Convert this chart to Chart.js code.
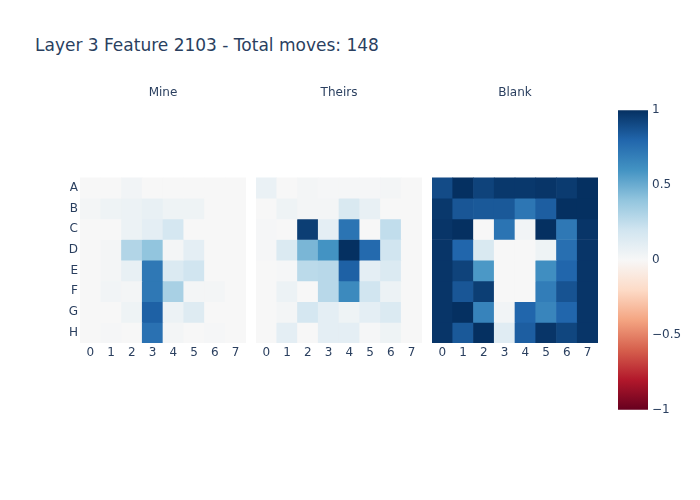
<!DOCTYPE html>
<html>
<head>
<meta charset="utf-8">
<script src="https://cdn.jsdelivr.net/npm/chart.js@4.4.1/dist/chart.umd.min.js"></script>
<style>
  html, body { margin: 0; padding: 0; background: #fff; width: 700px; height: 500px; overflow: hidden; }
  .box { position: absolute; }
  #title { position: absolute; left: 35px; top: 35px; font-family: "DejaVu Sans", sans-serif; font-size: 17px; line-height: 20px; color: #2a3f5f; white-space: nowrap; }
</style>
</head>
<body>
<div id="title">Layer 3 Feature 2103 - Total moves: 148</div>
<div class="box" style="left:40px;top:78px;width:206px;height:295px"><canvas id="c0"></canvas></div>
<div class="box" style="left:256px;top:78px;width:166px;height:295px"><canvas id="c1"></canvas></div>
<div class="box" style="left:432px;top:78px;width:166px;height:295px"><canvas id="c2"></canvas></div>
<div class="box" style="left:618px;top:99px;width:82px;height:322px"><canvas id="cb"></canvas></div>
<script>
const rowLabels = ['A','B','C','D','E','F','G','H'];
const colLabels = ['0','1','2','3','4','5','6','7'];
const panelTitles = ['Mine','Theirs','Blank'];

const mine = [
  [0.00,0.00,0.03,0.00,0.00,0.00,0.00,0.00],
  [0.02,0.05,0.06,0.08,0.05,0.05,0.00,0.00],
  [0.00,0.00,0.06,0.10,0.18,0.00,0.00,0.00],
  [0.00,0.02,0.30,0.40,0.02,0.10,0.00,0.00],
  [0.00,0.02,0.08,0.72,0.15,0.20,0.00,0.00],
  [0.00,0.03,0.02,0.72,0.33,0.02,0.02,0.00],
  [0.00,0.00,0.05,0.82,0.06,0.13,0.00,0.00],
  [0.00,0.01,0.00,0.75,0.02,0.00,0.01,0.00]
];
const theirs = [
  [0.07,0.00,0.02,0.01,0.01,0.01,0.02,0.00],
  [0.00,0.05,0.02,0.02,0.16,0.08,0.00,0.00],
  [0.01,0.00,0.95,0.10,0.74,0.00,0.25,0.00],
  [0.01,0.15,0.46,0.60,1.00,0.78,0.20,0.00],
  [0.00,0.01,0.27,0.28,0.82,0.10,0.15,0.00],
  [0.00,0.06,0.00,0.28,0.64,0.20,0.06,0.00],
  [0.00,0.02,0.18,0.10,0.05,0.10,0.15,0.00],
  [0.00,0.10,0.00,0.10,0.10,0.01,0.05,0.00]
];
const blank = [
  [0.90,1.00,0.93,0.97,0.97,0.98,0.96,1.00],
  [0.97,0.86,0.85,0.85,0.73,0.83,1.00,1.00],
  [0.98,1.00,0.00,0.74,0.03,1.00,0.72,0.98],
  [0.98,0.80,0.16,0.00,0.00,0.05,0.76,0.98],
  [0.98,0.93,0.58,0.00,0.00,0.62,0.80,0.98],
  [0.98,0.86,0.95,0.00,0.00,0.70,0.87,0.98],
  [0.98,1.00,0.67,0.03,0.80,0.66,0.80,0.98],
  [0.98,0.85,1.00,0.12,0.83,0.98,0.92,0.98]
];
const colorbarTicks = [-1,-0.5,0,0.5,1];

const RdBu = [
  [103,0,31],[178,24,43],[214,96,77],[244,165,130],[253,219,199],
  [247,247,247],[209,229,240],[146,197,222],[67,147,195],[33,102,172],[5,48,97]
];
function colorFor(v) {
  const t = Math.max(0, Math.min(1, (v + 1) / 2)) * (RdBu.length - 1);
  const i = Math.min(Math.floor(t), RdBu.length - 2);
  const f = t - i;
  const a = RdBu[i], b = RdBu[i + 1];
  const c = a.map((x, k) => Math.round(x + (b[k] - x) * f));
  return 'rgb(' + c.join(',') + ')';
}

const FONT = '"DejaVu Sans", sans-serif';
const TXT = '#2a3f5f';

function makePanel(id, title, values, showY) {
  const datasets = rowLabels.map((r, ri) => ({
    label: r,
    data: colLabels.map(() => [ri, ri + 1]),
    backgroundColor: values[ri].map(colorFor),
    borderWidth: 0,
    barPercentage: 1.0,
    categoryPercentage: 1.0,
    grouped: false
  }));
  new Chart(document.getElementById(id), {
    type: 'bar',
    data: { labels: colLabels, datasets },
    options: {
      responsive: true,
      maintainAspectRatio: false,
      animation: false,
      events: [],
      layout: { padding: 0 },
      plugins: {
        legend: { display: false },
        tooltip: { enabled: false },
        title: {
          display: true, text: title, color: TXT, fullSize: false,
          font: { family: FONT, size: 12, weight: 'normal' },
          padding: { top: 8, bottom: 77 }
        }
      },
      scales: {
        x: {
          type: 'category',
          grid: { display: false, drawTicks: false },
          border: { display: false },
          ticks: { color: TXT, font: { family: FONT, size: 12 }, padding: 3 },
          afterFit: (s) => { s.height = 30; }
        },
        y: {
          type: 'linear', min: 0, max: 8, reverse: true,
          display: showY,
          grid: { display: false, drawTicks: false },
          border: { display: false },
          afterBuildTicks: (s) => { s.ticks = rowLabels.map((r, i) => ({ value: i + 0.5 })); },
          ticks: {
            color: TXT, font: { family: FONT, size: 12 }, padding: 2,
            callback: (v) => rowLabels[Math.floor(v)]
          },
          afterFit: (s) => { if (showY) s.width = 40; }
        }
      }
    }
  });
}

makePanel('c0', panelTitles[0], mine, true);
makePanel('c1', panelTitles[1], theirs, false);
makePanel('c2', panelTitles[2], blank, false);

new Chart(document.getElementById('cb'), {
  type: 'bar',
  data: {
    labels: [''],
    datasets: [{
      data: [[-1, 1]],
      borderWidth: 0,
      barPercentage: 1.0,
      categoryPercentage: 1.0,
      backgroundColor: (ctx) => {
        const ch = ctx.chart, a = ch.chartArea;
        if (!a) return 'rgba(0,0,0,0)';
        const g = ch.ctx.createLinearGradient(0, a.bottom, 0, a.top);
        RdBu.forEach((c, i) => g.addColorStop(i / (RdBu.length - 1), 'rgb(' + c.join(',') + ')'));
        return g;
      }
    }]
  },
  options: {
    responsive: true,
    maintainAspectRatio: false,
    animation: false,
    events: [],
    layout: { padding: { top: 10, bottom: 10, left: 0, right: 0 } },
    plugins: { legend: { display: false }, tooltip: { enabled: false } },
    scales: {
      x: { display: false },
      y: {
        position: 'right', min: -1, max: 1,
        grid: { display: false, drawTicks: false },
        border: { display: false },
        afterBuildTicks: (s) => { s.ticks = colorbarTicks.map(v => ({ value: v })); },
        ticks: {
          color: TXT, font: { family: FONT, size: 12 }, padding: 4,
          callback: (v) => (v < 0 ? '\u2212' + Math.abs(v) : String(v))
        },
        afterFit: (s) => { s.width = 52; }
      }
    }
  }
});
</script>
</body>
</html>
